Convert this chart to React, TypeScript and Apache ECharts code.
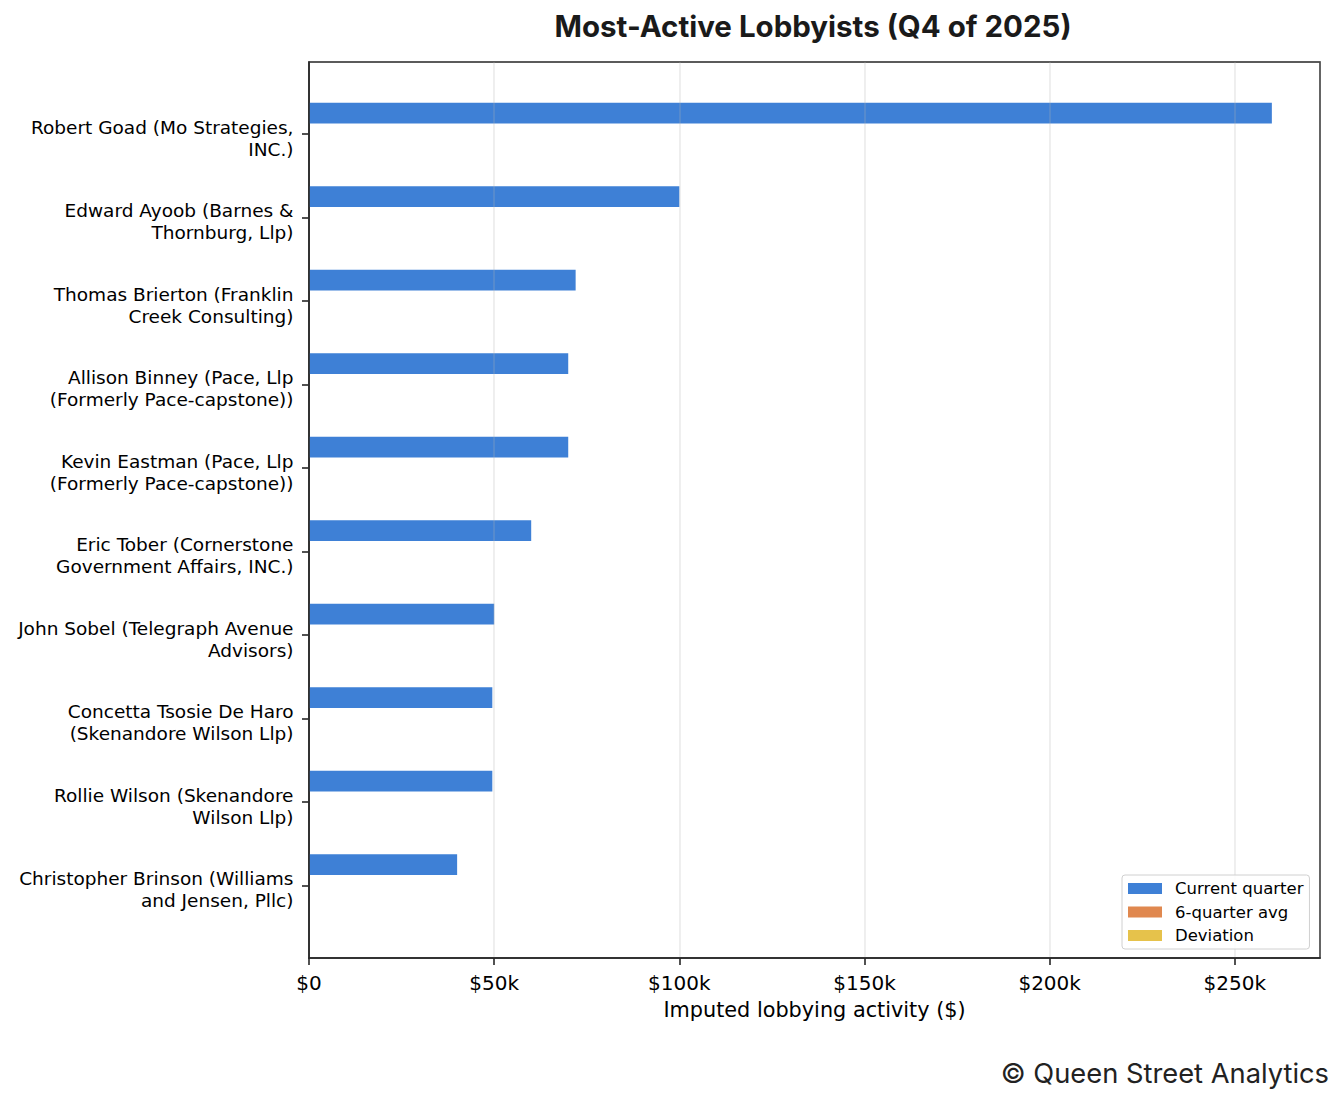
import React, { useEffect, useRef } from "react";
import * as echarts from "echarts";

const categories = [
  "Robert Goad (Mo Strategies,\nINC.)",
  "Edward Ayoob (Barnes &\nThornburg, Llp)",
  "Thomas Brierton (Franklin\nCreek Consulting)",
  "Allison Binney (Pace, Llp\n(Formerly Pace-capstone))",
  "Kevin Eastman (Pace, Llp\n(Formerly Pace-capstone))",
  "Eric Tober (Cornerstone\nGovernment Affairs, INC.)",
  "John Sobel (Telegraph Avenue\nAdvisors)",
  "Concetta Tsosie De Haro\n(Skenandore Wilson Llp)",
  "Rollie Wilson (Skenandore\nWilson Llp)",
  "Christopher Brinson (Williams\nand Jensen, Pllc)",
];

const currentQuarter = [260000, 100000, 72000, 70000, 70000, 60000, 50000, 49500, 49500, 40000];
const sixQuarterAvg = [0, 0, 0, 0, 0, 0, 0, 0, 0, 0];
const deviation = [0, 0, 0, 0, 0, 0, 0, 0, 0, 0];

const seriesNames = ["Current quarter", "6-quarter avg", "Deviation"];
const seriesColors = ["#3e80d6", "#e0884f", "#e6c24b"];

const xMin = 0;
const xMax = 273000;
const xInterval = 50000;

const fmtMoney = (v: number) => (v === 0 ? "$0" : `$${Math.round(v / 1000)}k`);

export default function App() {
  const ref = useRef<HTMLDivElement>(null);

  useEffect(() => {
    document.body.style.margin = "0";
    if (!ref.current) return;
    const chart = echarts.init(ref.current, undefined, { renderer: "svg" });
    const font = "DejaVu Sans";
    const frameColor = "#262626";
    const bandTop = 92.25;
    const bandHeight = 835;
    const option: any = {
      animation: false,
      backgroundColor: "#ffffff",
      title: [
        {
          text: "Most-Active Lobbyists (Q4 of 2025)",
          left: 808,
          textAlign: "center",
          top: 6,
          textStyle: { fontFamily: "Inter", fontWeight: "bold", fontSize: 29.5, color: "#1a1a1a" },
        },
        {
          text: "© Queen Street Analytics",
          right: 10,
          top: 1055,
          textStyle: { fontFamily: "Inter", fontWeight: "normal", fontSize: 27.3, color: "#222222" },
        },
      ],
      legend: {
        orient: "vertical",
        left: 1122,
        top: 875,
        padding: [5, 6, 5, 6],
        itemGap: 6.5,
        itemWidth: 34,
        itemHeight: 11,
        icon: "rect",
        backgroundColor: "rgba(255,255,255,0.85)",
        borderColor: "#d0d0d0",
        borderWidth: 1,
        borderRadius: 3,
        textStyle: { fontFamily: font, fontSize: 16.5, color: "#000", padding: [0, 0, 0, 8] },
        data: seriesNames,
      },
      grid: [
        {
          left: 309,
          top: 62,
          width: 1011,
          height: 896,
          show: true,
          borderColor: frameColor,
          borderWidth: 1.6,
          backgroundColor: "transparent",
        },
        { left: 309, top: bandTop, width: 1011, height: bandHeight },
        { left: 309, top: bandTop + 4, width: 1011, height: bandHeight },
      ],
      xAxis: [
        {
          type: "value",
          gridIndex: 0,
          min: xMin,
          max: xMax,
          interval: xInterval,
          z: 3,
          axisLine: { show: true, lineStyle: { color: frameColor, width: 1.6 } },
          axisTick: { show: true, length: 7, lineStyle: { color: frameColor, width: 1.6 } },
          axisLabel: {
            fontFamily: font,
            fontSize: 20,
            color: "#000",
            margin: 14.5,
            formatter: (v: number) => fmtMoney(v),
            showMaxLabel: false,
          },
          splitLine: { show: true, lineStyle: { color: "rgba(176,176,176,0.27)", width: 1.6 } },
          name: "Imputed lobbying activity ($)",
          nameLocation: "middle",
          nameGap: 41.5,
          nameTextStyle: { fontFamily: font, fontSize: 20.8, color: "#000" },
        },
        { type: "value", gridIndex: 1, min: xMin, max: xMax, show: false },
        { type: "value", gridIndex: 2, min: xMin, max: xMax, show: false },
      ],
      yAxis: [
        {
          type: "value",
          gridIndex: 0,
          min: 0,
          max: 1,
          z: 3,
          axisLine: { show: true, lineStyle: { color: frameColor, width: 1.6 } },
          axisTick: { show: false },
          axisLabel: { show: false },
          splitLine: { show: false },
        },
        {
          type: "category",
          gridIndex: 1,
          inverse: true,
          data: categories,
          axisLine: { show: false },
          axisTick: {
            show: true,
            alignWithLabel: true,
            length: 7,
            lineStyle: { color: frameColor, width: 1.6 },
          },
          axisLabel: { show: false },
          splitLine: { show: false },
        },
        {
          type: "category",
          gridIndex: 2,
          inverse: true,
          data: categories,
          axisLine: { show: false },
          axisTick: { show: false },
          axisLabel: {
            fontFamily: font,
            fontSize: 18.5,
            lineHeight: 22,
            color: "#000",
            margin: 15.5,
            align: "right",
            interval: 0,
          },
          splitLine: { show: false },
        },
      ],
      series: [currentQuarter, sixQuarterAvg, deviation].map((d, i) => ({
        name: seriesNames[i],
        type: "bar",
        xAxisIndex: 1,
        yAxisIndex: 1,
        data: d,
        barGap: "0%",
        barCategoryGap: "25%",
        itemStyle: { color: seriesColors[i] },
      })),
    };
    chart.setOption(option);
    return () => chart.dispose();
  }, []);

  return <div ref={ref} style={{ width: 1344, height: 1104 }} />;
}
